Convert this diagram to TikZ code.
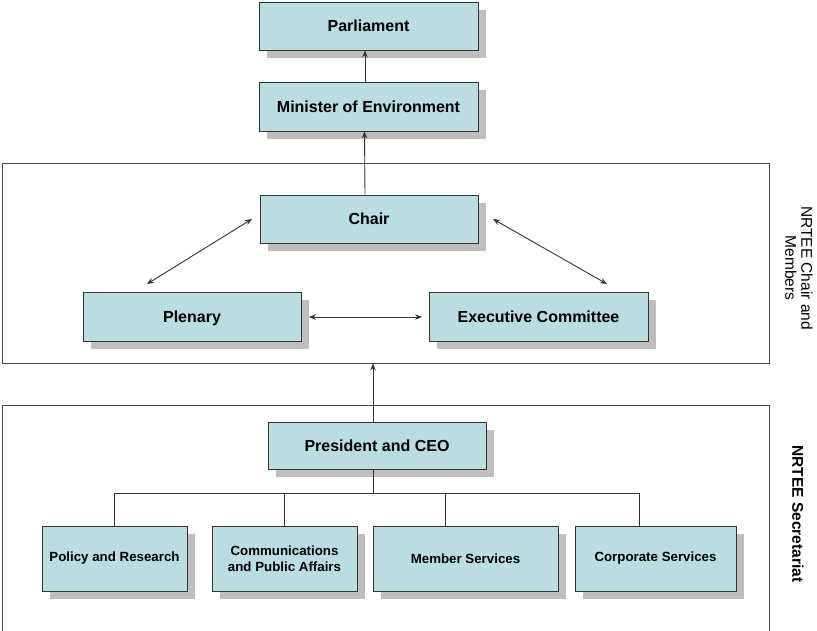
\documentclass[tikz,border=0pt]{standalone}
\usepackage{fontspec}
\setmainfont{Liberation Sans}
\usetikzlibrary{arrows.meta,shadows,calc}
\definecolor{boxfill}{HTML}{B9DDE1}
\definecolor{shadowgray}{HTML}{BEBEBE}
\definecolor{linegray}{HTML}{333333}
\begin{document}
\begin{tikzpicture}[x=1pt,y=-1pt,
  orgbox/.style={draw=linegray,line width=0.9pt,fill=boxfill,inner sep=2pt,
    drop shadow={shadow xshift=8pt,shadow yshift=-8pt,fill=shadowgray,opacity=1},
    font=\fontsize{16}{18}\selectfont\bfseries,align=center},
  onebox/.style={orgbox,text height=12pt,text depth=0.5pt},
  smallbox/.style={orgbox,font=\fontsize{13.3}{16}\selectfont\bfseries},
  frame/.style={draw=linegray!90,line width=0.9pt},
  conn/.style={draw=linegray,line width=0.9pt},
  arr/.style={conn,-{Stealth[length=7pt,width=5.5pt]}},
  darr/.style={conn,{Stealth[length=7pt,width=5.5pt]}-{Stealth[length=7pt,width=5.5pt]}},
  sidelabel/.style={rotate=-90,align=center,font=\fontsize{15.5}{16}\selectfont}]
\useasboundingbox (0,0) rectangle (817,630);
\fill[white] (0,0) rectangle (817,630);
% frames
\node[frame,minimum width=767pt,minimum height=200pt,inner sep=0pt] (topframe) at (385.5,263) {};
\draw[frame] (2,632) -- (2,405) coordinate (bfl) -- (769,405) coordinate (bfr) -- (769,632);
% boxes
\node[onebox,minimum width=219pt,minimum height=48pt] (parl) at (368.5,26) {Parliament};
\node[onebox,minimum width=219pt,minimum height=49pt] (min) at (368.5,106.5) {Minister of Environment};
\node[onebox,minimum width=218pt,minimum height=48pt] (chair) at (369,219) {Chair};
\node[onebox,minimum width=218pt,minimum height=49pt] (plen) at (192,316.5) {Plenary};
\node[onebox,minimum width=219pt,minimum height=49pt] (exec) at (538.5,316.5) {Executive Committee};
\node[onebox,minimum width=218pt,minimum height=47pt] (pres) at (377,445.5) {President and CEO};
\node[smallbox,minimum width=145pt,minimum height=65pt] (pol) at (114.5,558.5) {Policy and Research};
\node[smallbox,minimum width=145pt,minimum height=65pt] (comm) at (284.5,558.5) {Communications\\and Public Affairs};
\node[smallbox,minimum width=185pt,minimum height=65pt] (mem) at (465.5,558.5) {Member Services};
\node[smallbox,minimum width=161pt,minimum height=65pt] (corp) at (655.5,558.5) {Corporate Services};
% vertical arrows
\draw[arr] ([xshift=-3.5pt]min.north) -- ([xshift=-3.5pt]parl.south);
\draw[arr] ([xshift=-4pt]chair.north) -- ([xshift=-4pt]min.south);
\draw[arr] ([xshift=-4pt]pres.north) -- ([xshift=-4pt]pres.north |- topframe.south);
% double arrows in committee frame
\coordinate (dl1) at (147,284);
\coordinate (dl2) at (252,219);
\coordinate (dr1) at (493,219);
\coordinate (dr2) at (607,284);
\coordinate (h1) at (309,317);
\coordinate (h2) at (422,317);
\draw[darr] (dl1) -- (dl2);
\draw[darr] (dr1) -- (dr2);
\draw[darr] (h1) -- (h2);
% secretariat tree
\coordinate (bus) at (373,493);
\coordinate (busL) at (114.5,493);
\coordinate (busR) at (639,493);
\draw[conn] ([xshift=-4pt]pres.south) -- (bus);
\draw[conn] (busL) -- (busR);
\draw[conn] (pol.north) -- (busL);
\draw[conn] ([xshift=-0.5pt]comm.north) -- ([xshift=-0.5pt]comm.north |- bus);
\draw[conn] ([xshift=-20.5pt]mem.north) -- ([xshift=-20.5pt]mem.north |- bus);
\draw[conn] ([xshift=-16.5pt]corp.north) -- (busR);
% side labels
\node[sidelabel] (lab1) at (799,268) {NRTEE Chair and\\Members};
\node[sidelabel,font=\fontsize{15.5}{16}\selectfont\bfseries] (lab2) at (798,514) {NRTEE Secretariat};
\end{tikzpicture}
\end{document}
